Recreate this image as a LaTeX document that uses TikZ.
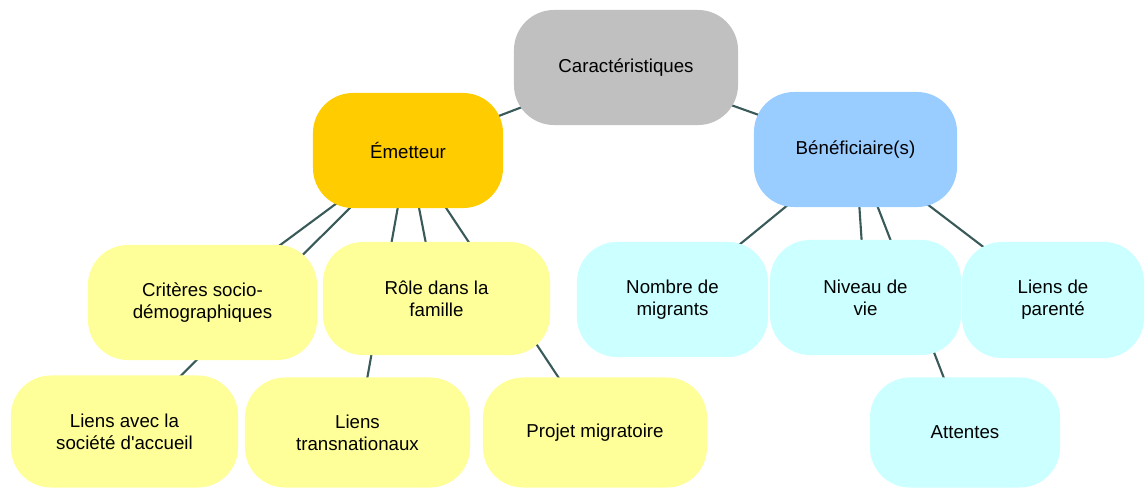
\documentclass[tikz,border=0pt]{standalone}
\usepackage{fontspec}
\setmainfont{Liberation Sans}
\usetikzlibrary{backgrounds}

\definecolor{rootgrey}{HTML}{C0C0C0}
\definecolor{emitgold}{HTML}{FFCC00}
\definecolor{benefblue}{HTML}{99CCFF}
\definecolor{emityellow}{HTML}{FFFF99}
\definecolor{benefcyan}{HTML}{CCFFFF}
\definecolor{linkslate}{HTML}{3A5A5A}

\tikzset{
    box/.style={rectangle, rounded corners=1cm, align=center, inner sep=0pt,
        minimum height=2.875cm, font=\fontsize{13.3}{15.5}\selectfont},
    link/.style={line width=1.5pt, draw=linkslate}
}

\begin{document}
\begin{tikzpicture}[x=0.025cm, y=-0.025cm]
    \useasboundingbox (0,0) rectangle (1145,488);

    % Root
    \node[box, fill=rootgrey, minimum width=5.6cm] (car) at (626,67.5) {Caractéristiques};

    % Second level
    \node[box, fill=emitgold, minimum width=4.75cm] (em) at (408,150.5) {Émetteur};
    \node[box, fill=benefblue, minimum width=5.075cm] (ben) at (855.5,149.5) {Bénéficiaire(s)};

    % Emetteur side
    \node[box, fill=emityellow, minimum width=5.725cm] (crit) at (202.5,302.5) {Critères socio-\\démographiques};
    \node[box, fill=emityellow, minimum width=5.675cm, minimum height=2.825cm] (role) at (436.5,298.5) {Rôle dans la\\famille};
    \node[box, fill=emityellow, minimum width=5.675cm, minimum height=2.8cm] (soc) at (124.5,431.5) {Liens avec la\\société d\textquotesingle accueil};
    \node[box, fill=emityellow, minimum width=5.625cm, minimum height=2.75cm] (trans) at (357.5,432.5) {Liens\\transnationaux};
    \node[box, fill=emityellow, minimum width=5.6cm, minimum height=2.75cm] (proj) at (595,432.5) {Projet migratoire};

    % Beneficiaire side
    \node[box, fill=benefcyan, minimum width=4.775cm] (nomb) at (672.5,299.5) {Nombre de\\migrants};
    \node[box, fill=benefcyan, minimum width=4.775cm] (niv) at (865.5,297.5) {Niveau de\\vie};
    \node[box, fill=benefcyan, minimum width=4.55cm, minimum height=2.9cm] (par) at (1053,300) {Liens de\\parenté};
    \node[box, fill=benefcyan, minimum width=4.75cm, minimum height=2.75cm] (att) at (965,432.5) {Attentes};

    % Links (behind the boxes)
    \begin{scope}[on background layer]
        \draw[link] (car.center) -- (em.center);
        \draw[link] (car.center) -- (ben.center);
        \foreach \child in {crit,role,soc,trans,proj}
            \draw[link] (em.center) -- (\child.center);
        \foreach \child in {nomb,niv,par,att}
            \draw[link] (ben.center) -- (\child.center);
    \end{scope}

\end{tikzpicture}
\end{document}
